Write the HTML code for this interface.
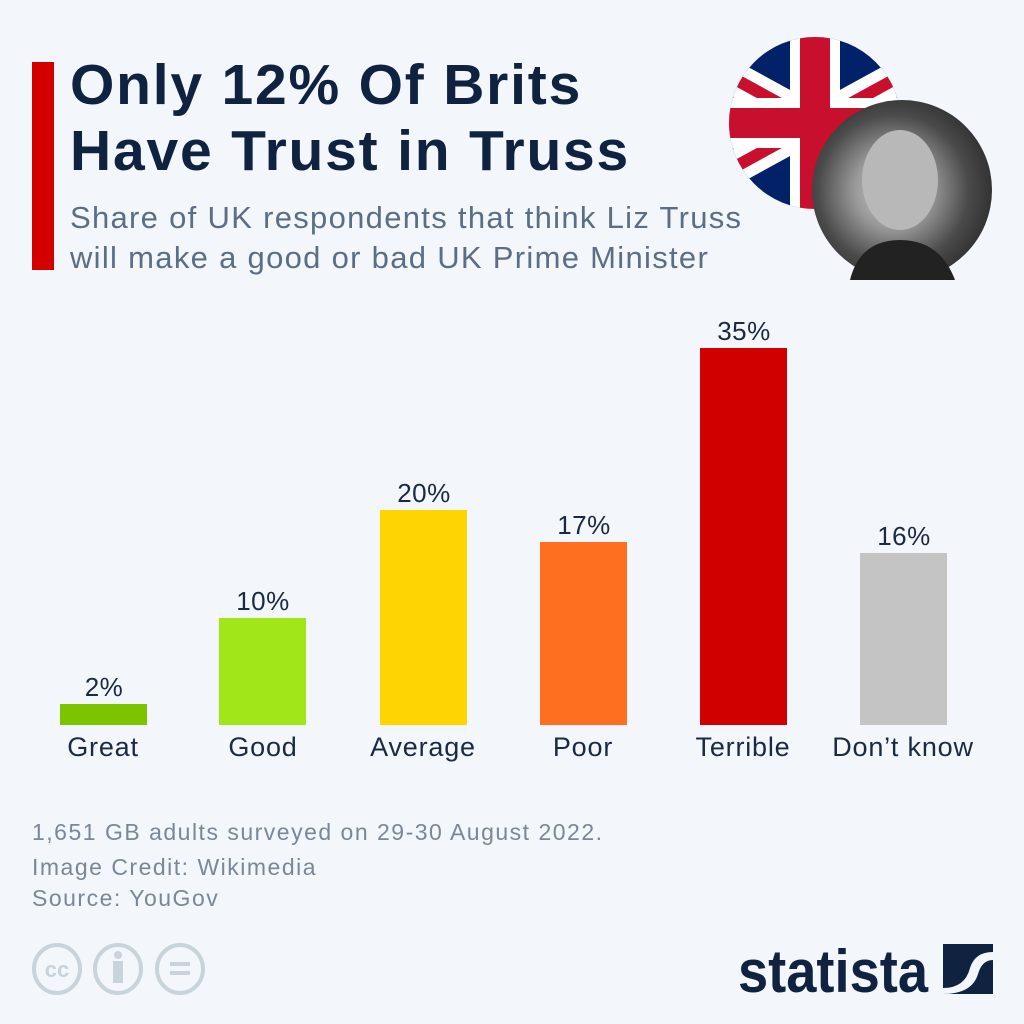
<!DOCTYPE html>
<html><head><meta charset="utf-8"><style>
body{margin:0;width:1024px;height:1024px;background:#f3f6fa;font-family:"Liberation Sans",sans-serif;position:relative;overflow:hidden}
.a{position:absolute}
.t{left:70px;top:52px;font-size:57px;font-weight:bold;color:#0f2340;line-height:66px;letter-spacing:1.8px}
.s{left:70px;top:198px;font-size:31px;color:#5b6e86;line-height:40px;letter-spacing:1.3px}
.bar{position:absolute;width:87px;bottom:299px}
.v{position:absolute;width:120px;text-align:center;font-size:26px;color:#1a2a44;letter-spacing:0.5px}
.c{position:absolute;width:170px;text-align:center;font-size:27px;color:#1a2a44;top:732px;letter-spacing:0.8px}
.f{left:32px;font-size:23px;color:#7a8797;letter-spacing:1.5px}
</style></head><body>
<div class="a" style="left:32px;top:62px;width:22px;height:208px;background:#d40000"></div>
<div class="a t">Only 12% Of Brits<br>Have Trust in Truss</div>
<div class="a s">Share of UK respondents that think Liz Truss<br>will make a good or bad UK Prime Minister</div>
<svg class="a" style="left:0;top:0" width="1024" height="300">
<defs><clipPath id="fc"><circle cx="815" cy="123" r="86"/></clipPath>
<radialGradient id="pg" cx="0.45" cy="0.5" r="0.6"><stop offset="0" stop-color="#c9c9c9"/><stop offset="0.35" stop-color="#9a9a9a"/><stop offset="0.7" stop-color="#4a4a4a"/><stop offset="1" stop-color="#2a2a2a"/></radialGradient></defs>
<g clip-path="url(#fc)">
<rect x="720" y="30" width="200" height="190" fill="#012169"/>
<path d="M700 60L930 186M930 60L700 186" stroke="#fff" stroke-width="34"/>
<path d="M700 60L930 186M930 60L700 186" stroke="#c8102e" stroke-width="12"/>
<path d="M815 30V220M720 123H920" stroke="#fff" stroke-width="50"/>
<path d="M815 30V220M720 123H920" stroke="#c8102e" stroke-width="30"/>
</g>
<circle cx="902" cy="190" r="90" fill="url(#pg)"/>
<ellipse cx="900" cy="180" rx="38" ry="50" fill="#b8b8b8"/>
<path d="M850 280 Q860 240 900 240 Q940 240 955 280Z" fill="#222"/>
</svg>
<div class="bar" style="left:60px;height:21px;background:#7dc400"></div>
<div class="bar" style="left:219px;height:107px;background:#a0e619"></div>
<div class="bar" style="left:380px;height:215px;background:#ffd500"></div>
<div class="bar" style="left:540px;height:183px;background:#ff6f1f"></div>
<div class="bar" style="left:700px;height:377px;background:#d10000"></div>
<div class="bar" style="left:860px;height:172px;background:#c4c4c4"></div>
<div class="v" style="left:44px;top:672px">2%</div>
<div class="v" style="left:203px;top:586px">10%</div>
<div class="v" style="left:364px;top:478px">20%</div>
<div class="v" style="left:524px;top:510px">17%</div>
<div class="v" style="left:684px;top:316px">35%</div>
<div class="v" style="left:844px;top:521px">16%</div>
<div class="c" style="left:18px">Great</div>
<div class="c" style="left:178px">Good</div>
<div class="c" style="left:338px">Average</div>
<div class="c" style="left:498px">Poor</div>
<div class="c" style="left:658px">Terrible</div>
<div class="c" style="left:818px">Don’t know</div>
<div class="a f" style="top:819px">1,651 GB adults surveyed on 29-30 August 2022.</div>
<div class="a f" style="top:854px">Image Credit: Wikimedia</div>
<div class="a f" style="top:885px">Source: YouGov</div>
<svg class="a" style="left:0;top:930px" width="1024" height="80">
<g fill="none" stroke="#c9d3dc" stroke-width="4">
<ellipse cx="57" cy="39" rx="23" ry="24"/><ellipse cx="118" cy="39" rx="23" ry="24"/><ellipse cx="180" cy="39" rx="23" ry="24"/></g>
<text x="57" y="47" font-size="22" font-weight="bold" fill="#c9d3dc" text-anchor="middle" font-family="Liberation Sans">cc</text>
<circle cx="118" cy="25" r="4" fill="#c9d3dc"/><rect x="113" y="31" width="10" height="22" fill="#c9d3dc"/>
<rect x="170" y="32" width="20" height="4" fill="#c9d3dc"/><rect x="170" y="41" width="20" height="4" fill="#c9d3dc"/>
<text x="738" y="62" font-size="60" font-weight="bold" fill="#0f2340" font-family="Liberation Sans" textLength="190" lengthAdjust="spacingAndGlyphs">statista</text>
<rect x="943" y="14" width="50" height="50" fill="#0f2340"/>
<path d="M943 58 Q965 58 970 38 Q975 22 993 22 V30 Q982 30 978 44 Q972 64 943 64Z" fill="#f3f6fa"/>
</svg>
</body></html>
